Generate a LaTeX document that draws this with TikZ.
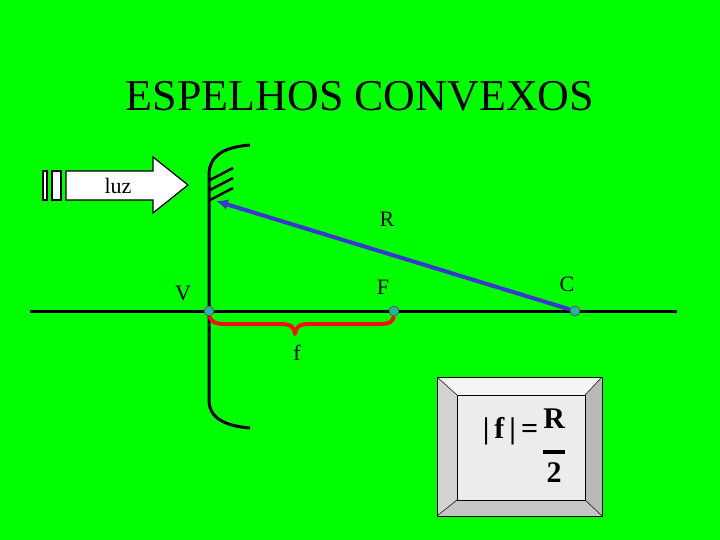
\documentclass[tikz,border=0pt]{standalone}
\usepackage{fontspec}
\setmainfont{Liberation Serif}
\usetikzlibrary{positioning,arrows.meta}
\definecolor{bggreen}{HTML}{00FF00}
\definecolor{raycol}{HTML}{3838D0}
\definecolor{dotcol}{HTML}{2EB0A0}
\definecolor{bracecol}{HTML}{F01010}
\tikzset{
  lbl/.style={font=\fontsize{22}{24}\selectfont, inner sep=0pt},
  pt/.style={circle, draw=black!70, fill=dotcol, minimum size=10pt, inner sep=0pt, line width=0.6pt},
}
\begin{document}
\begin{tikzpicture}[x=1pt,y=-1pt]
  \fill[bggreen] (0,0) rectangle (720,540);
  \useasboundingbox (0,0) rectangle (720,540);
  \node(title) at (360,96) {\fontsize{44}{48}\selectfont ESPELHOS CONVEXOS};
  % axis
  \draw[line width=3pt] (30,311) -- (677,311);
  % mirror
  \draw[line width=3pt] (250,145) .. controls (225,147) and (209,155) .. (209,175)
    -- (209,400) .. controls (209,418) and (225,426) .. (250,428);
  \foreach \yy in {180,190,200}
    \draw[line width=2.5pt] (210,\yy) -- (233,\yy-12);
  % luz arrow
  \draw[fill=white, line width=1.2pt] (43,171) rectangle (47,200);
  \draw[fill=white, line width=1.2pt] (52,171) rectangle (61,200);
  \draw[fill=white, line width=1.2pt] (66,171) -- (153,171) -- (153,157) -- (188,185)
    -- (153,213) -- (153,200) -- (66,200) -- cycle;
  \node[lbl] (luz) at (118,186) {luz};
  % points
  \node[pt] (V) at (209,311) {};
  \node[pt] (F) at (394,311) {};
  \node[pt] (C) at (575,311) {};
  \coordinate (hit) at (216,201);
  \draw[raycol, line width=4pt, -{Latex[length=12pt,width=11pt]}] (C) -- (hit);
  % focal brace
  \draw[bracecol, line width=4pt, line join=round]
    (V.south) .. controls (212,322) and (215,324) .. (225,324) -- (280,324)
    .. controls (290,324) and (294,326) .. (295,334)
    .. controls (296,326) and (300,324) .. (310,324) -- (380,324)
    .. controls (390,324) and (392,322) .. (F.south);
  % labels
  \node[lbl] (lV) at (183,293) {V};
  \node[lbl] (lF) at (383,287) {F};
  \node[lbl] (lC) at (567,284) {C};
  \node[lbl] (lR) at (387,219) {R};
  \node[lbl] (lf) at (297,353) {f};
  % formula box
  \fill[gray!15] (437,377) rectangle (602,516);
  \fill[gray!35] (437,377) -- (457,395) -- (457,500) -- (437,516) -- cycle;
  \fill[gray!55] (602,377) -- (585,395) -- (585,500) -- (602,516) -- cycle;
  \fill[gray!45] (437,516) -- (457,500) -- (585,500) -- (602,516) -- cycle;
  \fill[gray!8] (437,377) -- (457,395) -- (585,395) -- (602,377) -- cycle;
  \draw[line width=0.8pt] (437,377) rectangle (602,516);
  \draw[line width=0.8pt] (457,395) rectangle (585,500);
  \draw[line width=0.5pt] (437,377) -- (457,395) (602,377) -- (585,395)
    (437,516) -- (457,500) (602,516) -- (585,500);
  \node(formula) at (524,449) {\fontsize{30}{32}\selectfont\bfseries
    \textbar\,f\,\textbar\,=\,\raisebox{-0.55em}{\begin{tabular}{@{}c@{}}R\\[-6pt]\rule{22pt}{4pt}\\[-4pt]2\end{tabular}}};
\end{tikzpicture}
\end{document}
